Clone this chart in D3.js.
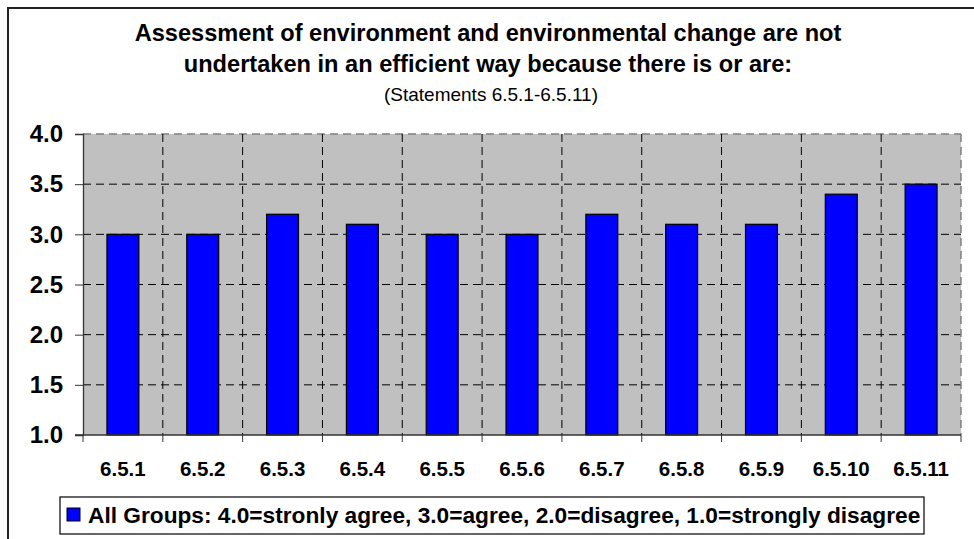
<!DOCTYPE html>
<html>
<head>
<meta charset="utf-8">
<script src="https://cdn.jsdelivr.net/npm/d3@7"></script>
<style>
  body { margin: 0; background: #fff; }
  text { font-family: "Liberation Sans", Arial, sans-serif; }
</style>
</head>
<body>
<div id="chart"></div>
<script>
// data
const categories = ["6.5.1","6.5.2","6.5.3","6.5.4","6.5.5","6.5.6","6.5.7","6.5.8","6.5.9","6.5.10","6.5.11"];
const values = [3.0, 3.0, 3.2, 3.1, 3.0, 3.0, 3.2, 3.1, 3.1, 3.4, 3.5];
const yTicks = [1.0, 1.5, 2.0, 2.5, 3.0, 3.5, 4.0];
const titleLines = ["Assessment of environment and environmental change are not",
                    "undertaken in an efficient way because there is or are:"];
const subtitle = "(Statements 6.5.1-6.5.11)";
const legendLabel = "All Groups: 4.0=stronly agree, 3.0=agree, 2.0=disagree, 1.0=strongly disagree";

const W = 974, H = 539;
const margin = {top: 134, right: 13, bottom: 104, left: 83},
    width = W - margin.left - margin.right,
    height = H - margin.top - margin.bottom;

const root = d3.select("#chart").append("svg")
    .attr("width", W)
    .attr("height", H);

// outer frame
root.append("rect")
    .attr("x", 8).attr("y", 8)
    .attr("width", W).attr("height", H)
    .attr("fill", "none")
    .attr("stroke", "#222")
    .attr("stroke-width", 2);

// titles
root.selectAll(".title")
    .data(titleLines)
    .join("text")
    .attr("class", "title")
    .attr("x", 488)
    .attr("y", (d, i) => 41 + i * 31)
    .attr("text-anchor", "middle")
    .style("font-size", "23.6px")
    .style("font-weight", "bold")
    .text(d => d);

root.append("text")
    .attr("x", 491)
    .attr("y", 101)
    .attr("text-anchor", "middle")
    .style("font-size", "19px")
    .text(subtitle);

const svg = root.append("g")
    .attr("transform", `translate(${margin.left},${margin.top})`);

const x = d3.scaleBand()
    .domain(categories)
    .range([0, width])
    .padding(0);

const y = d3.scaleLinear()
    .domain([1, 4])
    .range([height, 0]);

// plot background
svg.append("rect")
    .attr("width", width)
    .attr("height", height)
    .attr("fill", "#c0c0c0");

// horizontal grid
svg.append("g")
    .selectAll("line")
    .data(yTicks.filter(d => d > 1))
    .join("line")
    .attr("x1", 0).attr("x2", width)
    .attr("y1", d => y(d)).attr("y2", d => y(d))
    .attr("stroke", d => d === 4 ? "#808080" : "#000")
    .attr("stroke-width", d => d === 4 ? 1.5 : 1)
    .attr("stroke-dasharray", "8,5");

// vertical grid at category boundaries
const bounds = categories.slice(1).map(c => x(c));
svg.append("g")
    .selectAll("line")
    .data(bounds)
    .join("line")
    .attr("x1", d => d).attr("x2", d => d)
    .attr("y1", 0).attr("y2", height)
    .attr("stroke", "#000")
    .attr("stroke-dasharray", "8,5");

// right edge
svg.append("line")
    .attr("x1", width).attr("x2", width)
    .attr("y1", 0).attr("y2", height)
    .attr("stroke", "#808080")
    .attr("stroke-width", 1.5)
    .attr("stroke-dasharray", "8,5");

// bars
const barW = x.bandwidth() * 0.4;
svg.append("g")
    .selectAll("rect")
    .data(values)
    .join("rect")
    .attr("x", (d, i) => x(categories[i]) + (x.bandwidth() - barW) / 2)
    .attr("y", d => y(d))
    .attr("width", barW)
    .attr("height", d => y(1) - y(d))
    .attr("fill", "#0000ff")
    .attr("stroke", "#000")
    .attr("stroke-width", 1.2);

// y axis
const yAxis = svg.append("g")
    .call(d3.axisLeft(y).tickValues(yTicks).tickFormat(d3.format(".1f")).tickSize(8).tickPadding(12));
yAxis.select(".domain").attr("stroke", "#333").attr("stroke-width", 1.3);
yAxis.selectAll(".tick line").attr("stroke", "#333");
yAxis.selectAll("text")
    .style("font-size", "24px")
    .style("font-weight", "bold")
    .attr("fill", "#000");

// x axis: labels centred, ticks at boundaries
const xAxis = svg.append("g")
    .attr("transform", `translate(0,${height})`)
    .call(d3.axisBottom(x).tickSize(0).tickPadding(26));
xAxis.select(".domain").remove();
xAxis.selectAll("text")
    .style("font-size", "20.5px")
    .style("font-weight", "bold")
    .attr("fill", "#000");

svg.append("line")
    .attr("x1", -8).attr("x2", width)
    .attr("y1", height).attr("y2", height)
    .attr("stroke", "#333").attr("stroke-width", 1.3);

svg.append("g")
    .selectAll("line")
    .data([0, ...bounds, width])
    .join("line")
    .attr("x1", d => d).attr("x2", d => d)
    .attr("y1", height).attr("y2", height + 7)
    .attr("stroke", "#333");

// legend
const legend = root.append("g").attr("transform", "translate(60,497)");
legend.append("rect")
    .attr("width", 864).attr("height", 37)
    .attr("fill", "#fff")
    .attr("stroke", "#000")
    .attr("stroke-width", 1.2);
legend.append("rect")
    .attr("x", 7).attr("y", 11)
    .attr("width", 13).attr("height", 13)
    .attr("fill", "#0000ff")
    .attr("stroke", "#000");
legend.append("text")
    .attr("x", 28).attr("y", 26)
    .style("font-size", "22.7px")
    .style("font-weight", "bold")
    .text(legendLabel);
</script>
</body>
</html>
